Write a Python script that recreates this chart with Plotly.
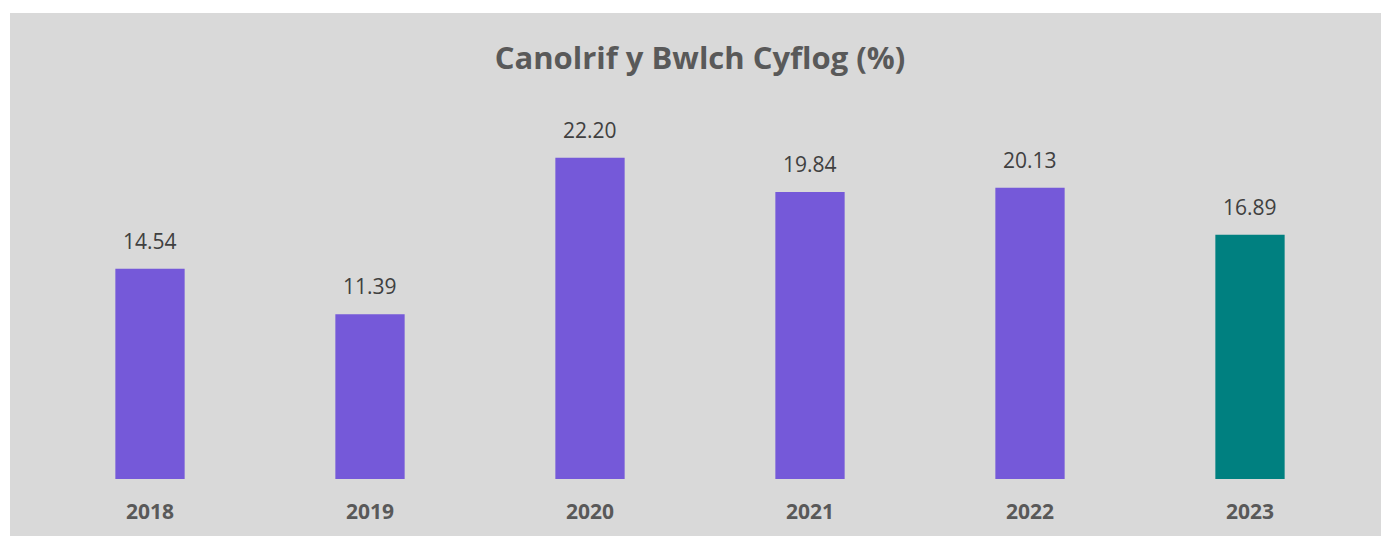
import plotly.graph_objects as go

years = ["2018", "2019", "2020", "2021", "2022", "2023"]
values = [14.54, 11.39, 22.20, 19.84, 20.13, 16.89]
bar_colors = ["#7559D9", "#7559D9", "#7559D9", "#7559D9", "#7559D9", "#008080"]
title_text = "Canolrif y Bwlch Cyflog (%)"

W, H = 1381, 536
ml, mr, mt, mb = 40, 21, 102, 57
pw = W - ml - mr
ph = H - mt - mb

fig = go.Figure(go.Bar(
    x=years, y=values, marker=dict(color=bar_colors, line=dict(width=0)),
    width=0.315, hoverinfo="x+y",
))

for i, v in enumerate(values):
    fig.add_annotation(x=i, y=v, text=f"{v:.2f}", showarrow=False,
                       yanchor="bottom", yshift=12,
                       font=dict(family="Open Sans", size=21, color="#404040"))

# gray chart-area background
fig.add_shape(type="rect", xref="paper", yref="paper", layer="below",
              x0=(10 - ml) / pw, x1=(W + 5 - ml) / pw,
              y0=-(mb + 5) / ph, y1=(H - 13 - mb) / ph,
              fillcolor="#D9D9D9", line=dict(width=0))

fig.update_layout(
    width=W, height=H,
    margin=dict(l=ml, r=mr, t=mt, b=mb, pad=0),
    paper_bgcolor="white", plot_bgcolor="rgba(0,0,0,0)",
    showlegend=False,
    title=dict(text=f"<b>{title_text}</b>", x=0.5, xref="paper", xanchor="center",
               y=1 - 58 / H, yanchor="middle",
               font=dict(family="Open Sans", size=31, color="#595959")),
    xaxis=dict(type="category", showgrid=False, showline=False, zeroline=False, ticks="",
               tickfont=dict(family="Open Sans", size=21, color="#595959"),
               ticklabelstandoff=18),
    yaxis=dict(range=[0, 26.06], visible=False, showgrid=False, zeroline=False),
)
fig.update_xaxes(tickprefix="<b>", ticksuffix="</b>")

fig.write_html("out.html", config={"displayModeBar": False},
               post_script="document.body.style.margin='0';document.body.style.overflow='hidden';")
